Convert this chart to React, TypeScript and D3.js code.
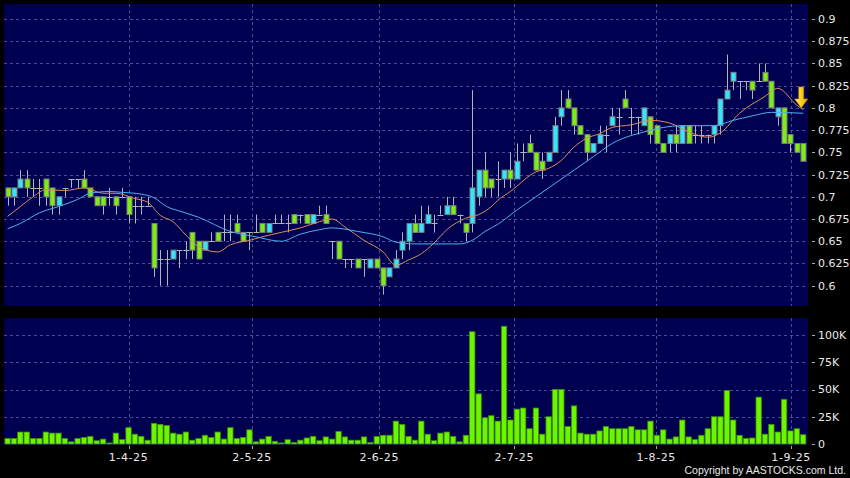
import React from "react";
import * as d3 from "d3";

const W = 850;
const H = 478;

// daily OHLC (HKD)
const opens = [
  0.71, 0.70, 0.71, 0.72, 0.71, 0.71, 0.72, 0.71, 0.69, 0.71,
  0.72, 0.72, 0.72, 0.71, 0.70, 0.70, 0.70, 0.70, 0.70, 0.70,
  0.69, 0.69, 0.69, 0.67, 0.63, 0.63, 0.63, 0.64, 0.64, 0.66,
  0.65, 0.64, 0.65, 0.66, 0.66, 0.66, 0.67, 0.66, 0.66, 0.66,
  0.67, 0.66, 0.67, 0.67, 0.67, 0.68, 0.68, 0.68, 0.67, 0.68,
  0.68, 0.65, 0.65, 0.63, 0.63, 0.63, 0.63, 0.62, 0.63, 0.62,
  0.61, 0.62, 0.64, 0.65, 0.67, 0.66, 0.67, 0.67, 0.68, 0.68,
  0.69, 0.68, 0.67, 0.67, 0.70, 0.73, 0.72, 0.72, 0.72, 0.73,
  0.72, 0.75, 0.76, 0.75, 0.74, 0.74, 0.75, 0.79, 0.81, 0.80,
  0.78, 0.77, 0.75, 0.76, 0.77, 0.78, 0.79, 0.81, 0.79, 0.79,
  0.78, 0.79, 0.78, 0.76, 0.76, 0.77, 0.76, 0.78, 0.77, 0.77,
  0.77, 0.77, 0.78, 0.81, 0.83, 0.83, 0.83, 0.83, 0.83, 0.84,
  0.83, 0.79, 0.80, 0.77, 0.76, 0.76,
];
const closes = [
  0.70, 0.71, 0.72, 0.71, 0.71, 0.71, 0.70, 0.69, 0.70, 0.71,
  0.72, 0.72, 0.71, 0.70, 0.69, 0.69, 0.70, 0.69, 0.70, 0.68,
  0.69, 0.69, 0.69, 0.62, 0.63, 0.63, 0.64, 0.64, 0.64, 0.64,
  0.63, 0.65, 0.65, 0.65, 0.66, 0.66, 0.66, 0.65, 0.66, 0.66,
  0.66, 0.67, 0.67, 0.67, 0.67, 0.67, 0.68, 0.67, 0.68, 0.68,
  0.67, 0.65, 0.63, 0.63, 0.63, 0.62, 0.63, 0.63, 0.62, 0.60,
  0.62, 0.63, 0.65, 0.67, 0.66, 0.67, 0.68, 0.67, 0.68, 0.69,
  0.68, 0.68, 0.66, 0.71, 0.73, 0.71, 0.71, 0.72, 0.73, 0.72,
  0.74, 0.75, 0.75, 0.73, 0.73, 0.75, 0.78, 0.80, 0.80, 0.78,
  0.77, 0.75, 0.76, 0.77, 0.77, 0.79, 0.79, 0.80, 0.79, 0.79,
  0.80, 0.77, 0.76, 0.75, 0.77, 0.76, 0.78, 0.76, 0.77, 0.77,
  0.77, 0.78, 0.81, 0.82, 0.84, 0.83, 0.83, 0.82, 0.83, 0.83,
  0.80, 0.80, 0.76, 0.76, 0.75, 0.74,
];
const highs = [
  0.71, 0.71, 0.73, 0.73, 0.72, 0.72, 0.72, 0.71, 0.70, 0.71,
  0.72, 0.72, 0.73, 0.71, 0.70, 0.70, 0.71, 0.70, 0.71, 0.70,
  0.70, 0.70, 0.70, 0.67, 0.64, 0.64, 0.64, 0.64, 0.65, 0.66,
  0.65, 0.65, 0.66, 0.66, 0.68, 0.68, 0.68, 0.66, 0.66, 0.68,
  0.67, 0.67, 0.68, 0.68, 0.68, 0.68, 0.68, 0.68, 0.68, 0.69,
  0.69, 0.65, 0.65, 0.63, 0.63, 0.63, 0.63, 0.63, 0.63, 0.62,
  0.62, 0.64, 0.66, 0.67, 0.68, 0.69, 0.69, 0.68, 0.69, 0.70,
  0.70, 0.68, 0.67, 0.82, 0.73, 0.75, 0.72, 0.74, 0.73, 0.75,
  0.76, 0.76, 0.77, 0.75, 0.75, 0.75, 0.79, 0.82, 0.82, 0.80,
  0.78, 0.77, 0.76, 0.78, 0.78, 0.80, 0.80, 0.82, 0.80, 0.79,
  0.80, 0.79, 0.78, 0.76, 0.77, 0.78, 0.78, 0.78, 0.78, 0.78,
  0.77, 0.78, 0.81, 0.86, 0.84, 0.83, 0.83, 0.83, 0.85, 0.85,
  0.83, 0.80, 0.80, 0.77, 0.76, 0.76,
];
const lows = [
  0.69, 0.69, 0.71, 0.70, 0.70, 0.69, 0.69, 0.68, 0.68, 0.70,
  0.71, 0.71, 0.71, 0.70, 0.69, 0.68, 0.69, 0.68, 0.70, 0.67,
  0.67, 0.68, 0.69, 0.61, 0.60, 0.60, 0.63, 0.62, 0.63, 0.63,
  0.63, 0.64, 0.65, 0.65, 0.65, 0.65, 0.66, 0.65, 0.64, 0.66,
  0.66, 0.66, 0.67, 0.67, 0.66, 0.67, 0.67, 0.67, 0.67, 0.68,
  0.67, 0.63, 0.63, 0.62, 0.62, 0.62, 0.61, 0.62, 0.62, 0.59,
  0.61, 0.62, 0.63, 0.64, 0.66, 0.66, 0.67, 0.66, 0.68, 0.68,
  0.68, 0.67, 0.65, 0.66, 0.69, 0.70, 0.70, 0.70, 0.71, 0.71,
  0.72, 0.74, 0.75, 0.73, 0.72, 0.74, 0.75, 0.78, 0.80, 0.77,
  0.77, 0.74, 0.75, 0.76, 0.75, 0.78, 0.77, 0.80, 0.77, 0.77,
  0.78, 0.76, 0.76, 0.75, 0.75, 0.75, 0.76, 0.76, 0.76, 0.76,
  0.76, 0.76, 0.77, 0.81, 0.82, 0.81, 0.82, 0.81, 0.83, 0.83,
  0.80, 0.78, 0.76, 0.75, 0.75, 0.74,
];
// turnover in thousand shares
const volumes = [
  5, 5, 11, 11, 5, 5, 11, 10, 10, 5,
  2, 5, 6, 7, 3, 4.5, 1, 10, 4, 15,
  9, 7, 3.5, 19, 18, 17, 10, 9, 11, 3.5,
  5, 8, 6, 11, 4.5, 15, 5, 6, 13, 2,
  4.5, 7, 2.5, 1, 4, 1.5, 3.5, 5.5, 7, 3,
  6.5, 4.5, 11.5, 6.5, 3.5, 3.5, 6.5, 1.5, 7, 8,
  8, 21, 18, 7, 3.5, 21, 9, 3, 10, 11,
  7, 2, 8, 103, 46, 24, 26, 21, 108, 22,
  32, 33, 14, 33, 9, 25, 50, 50, 16, 35,
  10, 9, 9, 12, 16, 14, 14, 14, 16, 13,
  13, 21, 8, 13, 4.5, 6.5, 22, 6.5, 4, 8,
  14, 25, 25, 49, 22, 8, 5, 5.5, 43, 9,
  18, 11, 41, 12, 14, 8.5,
];

// moving averages, sampled off the chart
const ma10Idx = [0, 2, 4, 6, 9, 12, 15, 17, 20, 22, 24, 26, 28, 30, 33, 35, 38, 40, 43, 46, 49, 51, 53, 56, 59, 61, 63, 65, 67, 69, 72, 74, 76, 77, 79, 83, 85, 87, 89, 91, 93, 95, 98, 101, 104, 107, 110, 112, 115, 119, 121, 124, 125];
const ma10Val = [0.678, 0.689, 0.7, 0.708, 0.707, 0.71, 0.704, 0.704, 0.698, 0.694, 0.679, 0.672, 0.657, 0.644, 0.638, 0.646, 0.651, 0.655, 0.66, 0.665, 0.672, 0.675, 0.666, 0.651, 0.638, 0.623, 0.629, 0.636, 0.648, 0.663, 0.676, 0.68, 0.689, 0.696, 0.706, 0.728, 0.732, 0.741, 0.756, 0.766, 0.771, 0.778, 0.781, 0.786, 0.783, 0.773, 0.767, 0.772, 0.794, 0.813, 0.822, 0.803, 0.798];
const ma20Idx = [0, 2, 5, 8, 11, 13, 16, 18, 21, 23, 25, 27, 30, 35, 39, 43, 46, 49, 51, 55, 59, 61, 64, 71, 73, 75, 77, 80, 83, 86, 89, 92, 95, 100, 106, 111, 114, 117, 120, 125];
const ma20Val = [0.664, 0.67, 0.682, 0.689, 0.697, 0.704, 0.706, 0.705, 0.703, 0.699, 0.689, 0.684, 0.677, 0.661, 0.655, 0.65, 0.658, 0.663, 0.665, 0.661, 0.655, 0.649, 0.647, 0.647, 0.651, 0.661, 0.669, 0.685, 0.7, 0.715, 0.73, 0.745, 0.76, 0.773, 0.78, 0.78, 0.786, 0.791, 0.795, 0.794];

const priceTicks = [0.9, 0.875, 0.85, 0.825, 0.8, 0.775, 0.75, 0.725, 0.7, 0.675, 0.65, 0.625, 0.6];
const volTicks = [100, 75, 50, 25, 0];
const volTickLabels = ["100K", "75K", "50K", "25K", "0"];
const dateTickIdx = [19, 38.4, 58.4, 79.6, 101.9, 123.1];
const dateTickLabels = ["1-4-25", "2-5-25", "2-6-25", "2-7-25", "1-8-25", "1-9-25"];

const UP = "#33e6ff";
const DOWN = "#7dee12";
const GRID = "#4c4c98";
const TXT = "#e8e8e8";
const FONT = "DejaVu Sans, sans-serif";

const PLOT = { left: 4, right: 808 };
const PRICE_BOX = { top: 4, bottom: 306 };
const VOL_BOX = { top: 318, bottom: 445 };

export default function App() {
  const n = closes.length;
  const x = d3.scaleLinear().domain([-0.5, n - 0.5]).range([4.42, 806.4]);
  const y = d3.scaleLinear().domain([0.6, 0.9]).range([285.7, 19]);
  const yv = d3.scaleLinear().domain([0, 100]).range([444, 335]);
  const step = x(1) - x(0);
  const bodyW = 5;
  const fmt = (v: number) => String(+v.toFixed(3));
  const px = (v: number) => Math.round(v) + 0.5;

  const maPath = (idx: number[], vals: number[]) =>
    d3
      .line<[number, number]>()
      .x((d) => x(d[0]))
      .y((d) => y(d[1]))
      .curve(d3.curveMonotoneX)(idx.map((d, i) => [d, vals[i]])) || "";

  // signal arrow over the last session
  const ax = x(n - 1) - 2;
  const aTip = y(0.8);

  return (
    <>
      <style>{`body{margin:0;background:#000}`}</style>
      <svg width={W} height={H} style={{ display: "block", background: "#000" }} fontFamily={FONT}>
        <defs>
          <linearGradient id="arrowFill" x1="0" x2="1" y1="0" y2="0">
            <stop offset="0" stopColor="#fff3a8" />
            <stop offset="0.45" stopColor="#ffd21a" />
            <stop offset="1" stopColor="#e8a800" />
          </linearGradient>
        </defs>

        {/* panels */}
        <rect x={PLOT.left} y={PRICE_BOX.top} width={PLOT.right - PLOT.left} height={PRICE_BOX.bottom - PRICE_BOX.top} fill="#000050" />
        <rect x={PLOT.left} y={VOL_BOX.top} width={PLOT.right - PLOT.left} height={VOL_BOX.bottom - VOL_BOX.top} fill="#000050" />

        {/* grid */}
        <g stroke={GRID} strokeDasharray="3 3" strokeWidth={1}>
          {priceTicks.map((t) => (
            <line key={"pg" + t} x1={PLOT.left} x2={PLOT.right} y1={px(y(t))} y2={px(y(t))} />
          ))}
          {volTicks.filter((t) => t > 0).map((t) => (
            <line key={"vg" + t} x1={PLOT.left} x2={PLOT.right} y1={px(yv(t))} y2={px(yv(t))} />
          ))}
          {dateTickIdx.map((t) => (
            <g key={"dg" + t}>
              <line x1={px(x(t))} x2={px(x(t))} y1={PRICE_BOX.top} y2={PRICE_BOX.bottom} />
              <line x1={px(x(t))} x2={px(x(t))} y1={VOL_BOX.top} y2={VOL_BOX.bottom} />
            </g>
          ))}
        </g>

        {/* candles */}
        <g>
          {closes.map((c, i) => {
            const o = opens[i];
            const cx = px(x(i));
            const top = y(Math.max(o, c));
            const bot = y(Math.min(o, c));
            return (
              <g key={"c" + i}>
                <line x1={cx} x2={cx} y1={y(highs[i])} y2={y(lows[i])} stroke="#b4b4b4" strokeWidth={1} />
                {o === c ? (
                  <line x1={cx - 3} x2={cx + 3} y1={px(top)} y2={px(top)} stroke="#b4b4b4" strokeWidth={1} />
                ) : (
                  <rect
                    x={cx - bodyW / 2}
                    y={top}
                    width={bodyW}
                    height={bot - top}
                    fill={c > o ? UP : DOWN}
                    stroke="#7c7c7c"
                    strokeWidth={1}
                  />
                )}
              </g>
            );
          })}
        </g>

        {/* moving averages */}
        <path d={maPath(ma10Idx, ma10Val)} fill="none" stroke="#dc8c5e" strokeWidth={1} />
        <path d={maPath(ma20Idx, ma20Val)} fill="none" stroke="#4eb0f0" strokeWidth={1} />

        {/* arrow */}
        <path
          d={`M${ax - 2.5},${aTip - 21} L${ax + 2.5},${aTip - 21} L${ax + 2.5},${aTip - 9} L${ax + 6.5},${aTip - 9} L${ax},${aTip} L${ax - 6.5},${aTip - 9} L${ax - 2.5},${aTip - 9} Z`}
          fill="url(#arrowFill)"
          stroke="#c08a00"
          strokeWidth={0.6}
        />

        {/* volume */}
        <g>
          {volumes.map((v, i) => (
            <rect
              key={"v" + i}
              x={x(i) - step * 0.42}
              y={yv(v)}
              width={step * 0.84}
              height={yv(0) - yv(v)}
              fill="#6cf500"
              stroke="#3f8f00"
              strokeWidth={0.8}
            />
          ))}
        </g>

        {/* right axis */}
        <g fill={TXT} fontSize={11}>
          {priceTicks.map((t) => (
            <g key={"pt" + t}>
              <line x1={812} x2={815} y1={px(y(t))} y2={px(y(t))} stroke="#aaa" />
              <text x={818} y={y(t)} dy="0.36em">
                {fmt(t)}
              </text>
            </g>
          ))}
          {volTicks.map((t, i) => (
            <g key={"vt" + t}>
              <line x1={812} x2={815} y1={px(yv(t))} y2={px(yv(t))} stroke="#aaa" />
              <text x={818} y={yv(t)} dy="0.36em">
                {volTickLabels[i]}
              </text>
            </g>
          ))}
        </g>

        {/* date axis */}
        <g fill={TXT} fontSize={11}>
          {dateTickIdx.map((t, i) => (
            <g key={"dt" + t}>
              <line x1={px(x(t))} x2={px(x(t))} y1={446} y2={449} stroke="#aaa" />
              <text x={x(t)} y={461} textAnchor="middle" letterSpacing={0.6}>
                {dateTickLabels[i]}
              </text>
            </g>
          ))}
          <text x={846} y={474} textAnchor="end" fontSize={10.5} fontFamily="Liberation Sans, Arial, sans-serif">
            Copyright by AASTOCKS.com Ltd.
          </text>
        </g>
      </svg>
    </>
  );
}
